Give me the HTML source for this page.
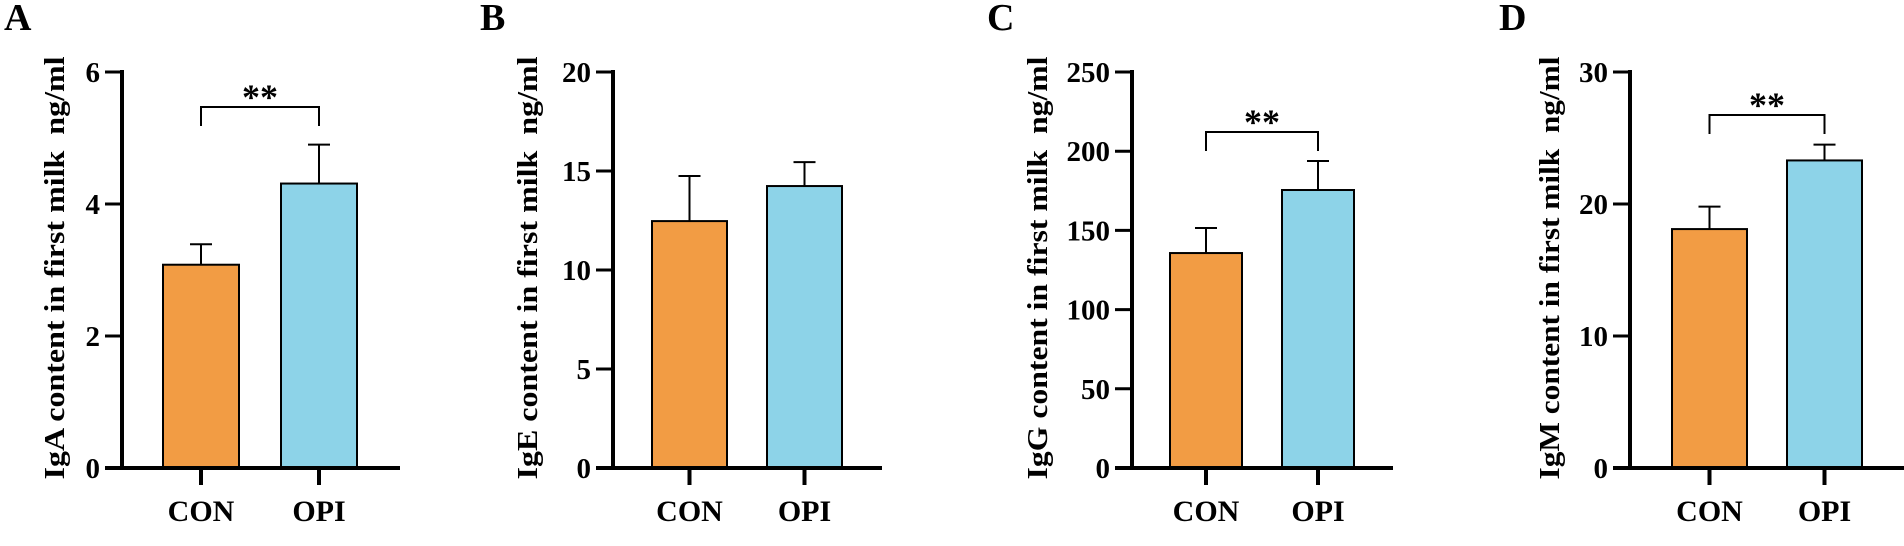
<!DOCTYPE html>
<html><head><meta charset="utf-8"><style>
html,body{margin:0;padding:0;background:#fff;}
svg{display:block;font-family:"Liberation Serif",serif;font-weight:bold;}
</style></head><body>
<svg id="chart" width="1904" height="546" viewBox="0 0 1904 546"></svg>
<script>
const categories = ["CON", "OPI"];
const panelLetters = ["A", "B", "C", "D"];
const panelTitles = ["IgA content in first milk\u00a0 ng/ml", "IgE content in first milk\u00a0 ng/ml", "IgG content in first milk\u00a0 ng/ml", "IgM content in first milk\u00a0 ng/ml"];
const meanA = [3.08, 4.31];
const errA = [3.39, 4.9];
const meanB = [12.47, 14.24];
const errB = [14.75, 15.45];
const meanC = [135.7, 175.5];
const errC = [151.5, 193.8];
const meanD = [18.1, 23.3];
const errD = [19.8, 24.5];
const ticksA = [0, 2, 4, 6];
const ticksB = [0, 5, 10, 15, 20];
const ticksC = [0, 50, 100, 150, 200, 250];
const ticksD = [0, 10, 20, 30];
const signif = ["**", "", "**", "**"];

const layout = [
  {ax:122, bars:[163,281], bw:76, title:55, letter:4, xend:400, br:107},
  {ax:613, bars:[652,767], bw:75, title:528, letter:480, xend:882, br:0},
  {ax:1132, bars:[1170,1282], bw:72, title:1038, letter:987, xend:1393, br:132},
  {ax:1630, bars:[1672,1787], bw:75, title:1550, letter:1499, xend:1904, br:115}
];
const means = [meanA, meanB, meanC, meanD];
const errs = [errA, errB, errC, errD];
const ticks = [ticksA, ticksB, ticksC, ticksD];
const colors = ["#F29C44", "#8DD3E8"];
const Y0 = 468, Y1 = 72;
const NS = "http://www.w3.org/2000/svg";
const svg = document.getElementById("chart");
function mk(tag, attrs, parent, text){
  const e = document.createElementNS(NS, tag);
  for (const k in attrs) e.setAttribute(k, attrs[k]);
  if (text !== undefined) e.textContent = text;
  parent.appendChild(e);
  return e;
}
for (let p = 0; p < 4; p++) {
  const L = layout[p];
  const t = ticks[p];
  const ymax = t[t.length-1];
  const y = v => Y0 - (v / ymax) * (Y0 - Y1);
  const g = mk("g", {}, svg);
  
  
  const letter = mk("text", {x:L.letter, y:30, "font-size":38}, g, panelLetters[p]);
  
  
  const title = mk("text", {x:L.title, y:268, "font-size":29, "text-anchor":"middle", "dominant-baseline":"central", transform:`rotate(-90 ${L.title} 268)`, textLength:423, lengthAdjust:"spacingAndGlyphs"}, g, panelTitles[p]);
  
  
  for (let i = 0; i < 2; i++) {
    const cx = L.bars[i] + L.bw/2;
    const eb = mk("g", {}, g);
    
    
    mk("line", {x1:cx, x2:cx, y1:y(means[p][i]), y2:y(errs[p][i]), stroke:"#000", "stroke-width":2}, eb);
    mk("line", {x1:cx-11, x2:cx+11, y1:y(errs[p][i]), y2:y(errs[p][i]), stroke:"#000", "stroke-width":2}, eb);
    const r = mk("rect", {x:L.bars[i], y:y(means[p][i]), width:L.bw, height:Y0 - y(means[p][i]), fill:colors[i], stroke:"#000", "stroke-width":2}, g);
    
    
    mk("line", {x1:cx, x2:cx, y1:Y0, y2:485, stroke:"#000", "stroke-width":4}, g);
    const xl = mk("text", {x:cx, y:521, "font-size":30, "text-anchor":"middle"}, g, categories[i]);
    
    
  }
  const ya = mk("line", {x1:L.ax, x2:L.ax, y1:Y1-2, y2:Y0+2, stroke:"#000", "stroke-width":4}, g);
  
  
  const xa = mk("line", {x1:L.ax-17, x2:L.xend, y1:Y0, y2:Y0, stroke:"#000", "stroke-width":4}, g);
  
  
  for (const v of t) {
    mk("line", {x1:L.ax-17, x2:L.ax, y1:y(v), y2:y(v), stroke:"#000", "stroke-width":3}, g);
    const tl = mk("text", {x:L.ax-22, y:y(v)+10, "font-size":29, "text-anchor":"end"}, g, String(v));
    
    
  }
  if (signif[p]) {
    const c0 = L.bars[0] + L.bw/2, c1 = L.bars[1] + L.bw/2;
    const br = mk("path", {d:`M${c0} ${L.br+19} V${L.br} H${c1} V${L.br+19}`, fill:"none", stroke:"#000", "stroke-width":2}, g);
    
    
    const st = mk("text", {x:(c0+c1)/2, y:L.br+2, "font-size":36, "text-anchor":"middle"}, g, signif[p]);
    
    
  }
}
</script>
</body></html>
